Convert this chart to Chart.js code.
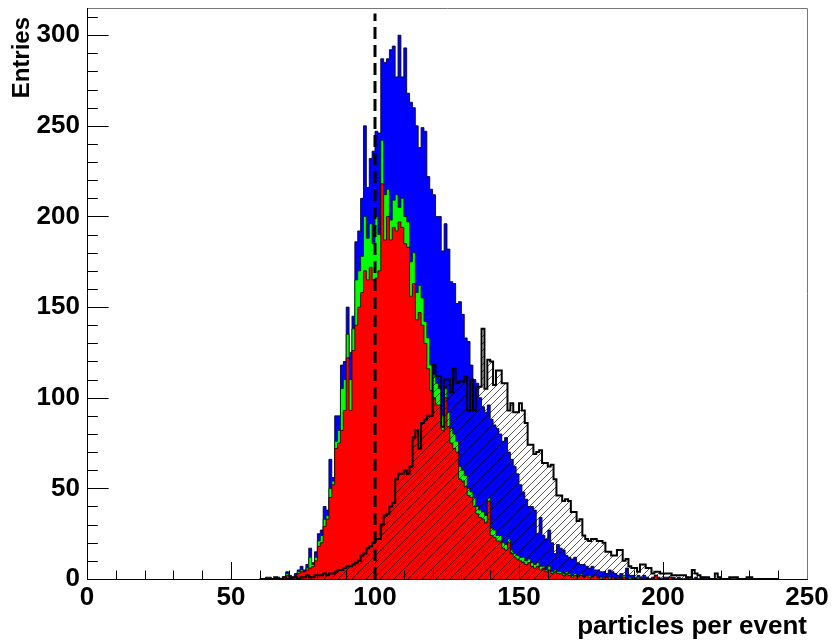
<!DOCTYPE html>
<html>
<head>
<meta charset="utf-8">
<script src="https://cdn.jsdelivr.net/npm/chart.js@4.4.1/dist/chart.umd.min.js"></script>
<style>
  html, body { margin: 0; padding: 0; background: #fff; }
  #wrap { width: 832px; height: 644px; }
</style>
</head>
<body>
<div id="wrap"><canvas id="c" width="832" height="644"></canvas></div>
<script>
// histogram bins are 1 unit wide, first bin starts at 60
const binStart = 60;

// all particles (blue), bins 60..239
const allCounts = [
  0,0,1,1,0,0,1,0,1,4,
  2,1,3,5,7,5,8,17,9,15,
  25,27,40,38,66,56,90,90,118,120,
  150,125,145,186,192,210,250,216,232,236,
  247,246,287,285,287,292,294,277,300,277,
  293,268,263,260,250,238,249,247,222,215,
  212,200,200,181,196,182,164,163,152,153,
  146,133,131,118,110,108,100,95,92,96,
  88,85,83,80,76,78,70,66,62,58,
  52,48,44,40,40,38,25,34,24,22,
  27,20,14,19,17,16,13,12,11,12,
  9,8,8,7,6,7,5,5,4,4,
  3,5,4,3,2,3,2,6,2,2,
  1,2,1,2,1,0,1,2,1,0,
  1,1,1,1,0,1,0,0,1,0,
  0,1,0,1,1,0,0,0,0,0,
  0,0,0,0,0,0,0,0,0,0,
  0,0,0,0,0,0,0,0,0,0
];

// green subset (drawn from zero, sits on top of red)
const greenCounts = [
  0,0,0,0,0,0,0,0,1,3,
  1,0,2,4,5,4,6,12,8,12,
  21,24,33,35,50,54,76,82,105,110,
  135,110,138,165,170,178,200,188,196,185,
  200,190,242,212,215,198,209,212,205,210,
  200,197,175,180,158,162,155,142,133,118,
  113,108,105,90,105,92,83,80,76,62,
  60,57,50,48,45,40,38,37,35,45,
  28,27,24,24,20,19,22,16,14,13,
  12,12,10,11,9,8,9,7,7,5,
  7,4,5,4,4,3,4,3,2,3,
  2,3,1,2,2,1,2,1,1,1,
  1,1,1,0,1,0,2,0,1,0,
  0,1,0,0,0,0,0,2,0,0,
  0,0,1,0,0,0,0,0,0,0,
  0,0,0,0,0,0,0,0,0,0,
  0,0,0,0,0,0,0,0,0,0,
  0,0,0,0,0,0,0,0,0,0
];

// red subset
const redCounts = [
  0,0,0,0,0,0,0,0,1,2,
  1,0,2,3,4,4,5,6,7,10,
  18,20,29,33,45,52,72,75,82,93,
  122,93,126,140,150,158,170,165,172,165,
  166,170,218,187,200,187,194,192,197,194,
  185,183,156,163,143,147,140,130,116,104,
  100,96,96,82,100,84,75,72,70,55,
  54,51,46,45,40,36,34,33,31,43,
  24,23,21,21,17,16,20,14,12,11,
  10,9,8,9,7,6,7,5,6,4,
  5,3,4,3,3,2,3,2,1,2,
  1,2,1,2,1,1,2,1,0,1,
  1,0,1,0,1,0,1,0,0,0,
  0,0,0,0,0,0,0,2,0,0,
  0,0,1,0,0,0,0,0,0,0,
  0,0,0,0,0,0,0,0,0,0,
  0,0,0,0,0,0,0,0,0,0,
  0,0,0,0,0,0,0,0,0,0
];

// hatched comparison histogram (black outline)
const hatchCounts = [
  0,0,0,0,0,1,0,0,1,0,
  0,1,1,0,1,1,2,1,1,2,
  2,2,3,2,3,3,4,5,5,6,
  7,7,8,9,10,13,14,17,18,20,
  22,22,30,35,36,40,42,55,58,58,
  60,58,62,78,82,72,86,88,90,90,
  118,112,112,84,110,110,103,116,108,109,
  109,112,93,110,93,106,106,138,105,121,
  120,107,115,115,108,108,93,97,92,92,
  97,93,86,74,74,69,70,71,64,64,
  62,63,55,46,46,43,44,43,37,37,
  32,33,24,22,21,22,22,21,21,20,
  15,15,13,13,16,16,10,11,7,6,
  6,4,8,8,6,6,3,4,4,3,
  3,3,3,2,2,2,2,2,1,1,
  5,3,2,1,1,1,0,0,3,1,
  0,0,0,1,1,1,0,0,0,1,
  1,0,0,0,0,0,0,0,0,0
];

const xTickValues = [0, 50, 100, 150, 200, 250];
const yTickValues = [0, 50, 100, 150, 200, 250, 300];
const cutValue = 100;      // dashed marker
const cutTop = 312;
const xMax = 250;
const yMax = 315;

const FONT = "'Liberation Sans', Arial, Helvetica, sans-serif";

function steps(counts) {
  const pts = counts.map((c, i) => ({ x: binStart + i, y: c }));
  pts.push({ x: binStart + counts.length, y: 0 });
  return pts;
}

const canvas = document.getElementById('c');
const ctx0 = canvas.getContext('2d');

function makeHatch() {
  const s = 7;
  const c = document.createElement('canvas');
  c.width = s; c.height = s;
  const g = c.getContext('2d');
  g.strokeStyle = 'rgba(0,0,0,0.65)';
  g.lineWidth = 1;
  g.beginPath();
  g.moveTo(0, s); g.lineTo(s, 0);
  g.moveTo(-1, 1); g.lineTo(1, -1);
  g.moveTo(s - 1, s + 1); g.lineTo(s + 1, s - 1);
  g.stroke();
  return ctx0.createPattern(c, 'repeat');
}

const histLine = { pointRadius: 0, stepped: 'before', tension: 0, fill: 'origin' };

const framePlugin = {
  id: 'frame',
  beforeDraw(chart) {
    const { ctx } = chart;
    ctx.save();
    ctx.fillStyle = '#fff';
    ctx.fillRect(0, 0, chart.width, chart.height);
    ctx.restore();
  },
  afterDatasetsDraw(chart) {
    const { ctx, chartArea: a, scales: { x, y } } = chart;
    ctx.save();
    ctx.strokeStyle = '#000';
    ctx.lineWidth = 1;
    ctx.beginPath();
    for (let v = 0; v <= xMax; v += 10) {
      const px = Math.round(x.getPixelForValue(v)) + 0.5;
      const len = v % 50 === 0 ? 17 : 8.5;
      ctx.moveTo(px, a.bottom);
      ctx.lineTo(px, a.bottom - len);
    }
    for (let v = 0; v <= yMax; v += 10) {
      const py = Math.round(y.getPixelForValue(v)) + 0.5;
      const len = v % 50 === 0 ? 21.6 : 10.8;
      ctx.moveTo(a.left, py);
      ctx.lineTo(a.left + len, py);
    }
    ctx.stroke();

    // frame box
    ctx.strokeStyle = '#777';
    ctx.beginPath();
    ctx.moveTo(Math.round(a.left) + 0.5, Math.round(a.top) + 0.5);
    ctx.lineTo(Math.round(a.right) + 0.5, Math.round(a.top) + 0.5);
    ctx.lineTo(Math.round(a.right) + 0.5, Math.round(a.bottom));
    ctx.stroke();
    ctx.strokeStyle = '#000';
    ctx.beginPath();
    ctx.moveTo(Math.round(a.left) + 0.5, Math.round(a.top));
    ctx.lineTo(Math.round(a.left) + 0.5, Math.round(a.bottom) + 0.5);
    ctx.lineTo(Math.round(a.right) + 1, Math.round(a.bottom) + 0.5);
    ctx.stroke();
    ctx.restore();
  },
  afterDraw(chart) {
    const { ctx } = chart;
    ctx.save();
    ctx.translate(22, 17);
    ctx.rotate(-Math.PI / 2);
    ctx.font = 'bold 24px ' + FONT;
    ctx.fillStyle = '#000';
    ctx.textAlign = 'right';
    ctx.textBaseline = 'middle';
    ctx.fillText('Entries', 0, 0);
    ctx.restore();
  }
};

new Chart(canvas, {
  type: 'line',
  data: {
    datasets: [
      {
        label: 'cut',
        data: [{ x: cutValue, y: 0 }, { x: cutValue, y: cutTop }],
        borderColor: '#000', borderWidth: 3, borderDash: [12, 6],
        pointRadius: 0, fill: false, order: 0
      },
      Object.assign({
        label: 'hatched',
        data: steps(hatchCounts),
        borderColor: '#000', borderWidth: 2,
        backgroundColor: makeHatch(), order: 1
      }, histLine),
      Object.assign({
        label: 'red',
        data: steps(redCounts),
        borderColor: 'rgba(40,0,0,0.85)', borderWidth: 1,
        backgroundColor: '#ff0000', order: 2
      }, histLine),
      Object.assign({
        label: 'green',
        data: steps(greenCounts),
        borderColor: 'rgba(0,40,0,0.85)', borderWidth: 1,
        backgroundColor: '#00ff00', order: 3
      }, histLine),
      Object.assign({
        label: 'all',
        data: steps(allCounts),
        borderColor: 'rgba(0,0,30,0.85)', borderWidth: 1,
        backgroundColor: '#0000ff', order: 4
      }, histLine)
    ]
  },
  options: {
    responsive: false,
    animation: false,
    events: [],
    layout: { padding: { top: 8, right: 25, left: 0, bottom: 0 } },
    plugins: { legend: { display: false }, tooltip: { enabled: false } },
    scales: {
      x: {
        type: 'linear', min: 0, max: xMax,
        grid: { display: false, drawTicks: false },
        border: { display: false },
        ticks: { font: { family: FONT, size: 26, weight: 'bold' }, color: '#000', padding: 3, maxRotation: 0, autoSkip: false },
        title: {
          display: true, text: 'particles per event', align: 'end',
          font: { family: FONT, size: 26, weight: 'bold' }, color: '#000',
          padding: { top: 0, bottom: 2 }
        },
        afterBuildTicks: s => { s.ticks = xTickValues.map(v => ({ value: v })); },
        afterFit: s => { s.height = 65; s.paddingLeft = 0; s.paddingRight = 0; }
      },
      y: {
        type: 'linear', min: 0, max: yMax,
        grid: { display: false, drawTicks: false },
        border: { display: false },
        ticks: { font: { family: FONT, size: 26, weight: 'bold' }, color: '#000', padding: 7, autoSkip: false },
        afterBuildTicks: s => { s.ticks = yTickValues.map(v => ({ value: v })); },
        afterFit: s => { s.width = 87; s.paddingTop = 0; s.paddingBottom = 0; }
      }
    }
  },
  plugins: [framePlugin]
});
</script>
</body>
</html>
